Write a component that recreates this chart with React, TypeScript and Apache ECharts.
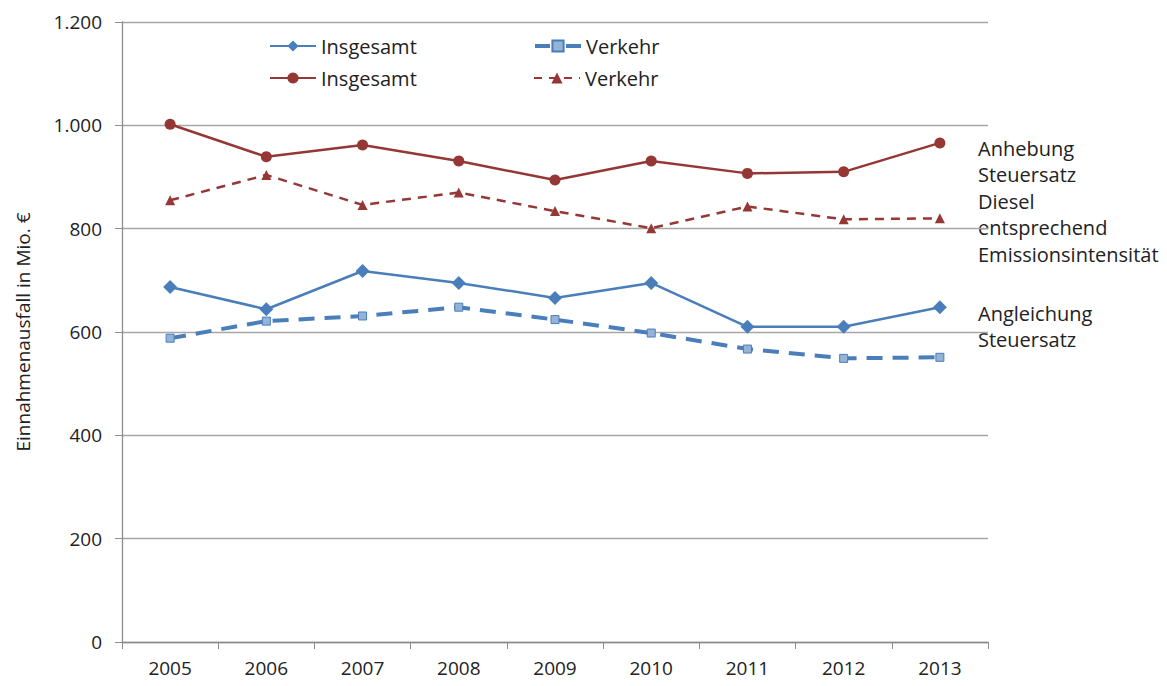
import React, { useEffect, useRef } from "react";
import * as echarts from "echarts";

const years = ["2005", "2006", "2007", "2008", "2009", "2010", "2011", "2012", "2013"];
const angleichungInsgesamt = [687, 644, 718, 695, 666, 695, 610, 610, 648];
const angleichungVerkehr = [588, 621, 631, 648, 624, 598, 567, 549, 551];
const anhebungInsgesamt = [1002, 939, 962, 931, 894, 931, 907, 910, 966];
const anhebungVerkehr = [855, 904, 846, 870, 834, 801, 843, 818, 820];
const yTicks = [0, 200, 400, 600, 800, 1000, 1200];

const BLUE = "#4A7EBB";
const LIGHTBLUE = "#95B3D7";
const RED = "#953735";
const FONT = "'Open Sans', 'DejaVu Sans', sans-serif";

const fmt = (v: number) => String(v).replace(/\B(?=(\d{3})+(?!\d))/g, ".");

export default function App() {
  const ref = useRef<HTMLDivElement>(null);
  useEffect(() => {
    const chart = echarts.init(ref.current!, null, { renderer: "svg" });
    const legendBase = {
      orient: "horizontal",
      itemWidth: 46,
      itemHeight: 14,
      itemGap: 4,
      selectedMode: false,
      textStyle: { fontFamily: FONT, fontSize: 20, color: "#222" },
      formatter: (n: string) => n.split(" ")[0],
    };
    chart.setOption({
      animation: false,
      grid: { left: 122, right: 179, top: 22, bottom: 44 },
      legend: [
        { ...legendBase, left: 264, top: 31, data: ["Insgesamt A"] },
        {
          ...legendBase,
          left: 528,
          top: 31,
          data: [{ name: "Verkehr A", lineStyle: { type: [15, 16], width: 4 } }],
        },
        { ...legendBase, left: 264, top: 63, data: ["Insgesamt B"] },
        {
          ...legendBase,
          left: 528,
          top: 63,
          data: [{ name: "Verkehr B", lineStyle: { type: [8, 7] } }],
        },
      ],
      xAxis: {
        type: "category",
        data: years,
        boundaryGap: true,
        axisLine: { lineStyle: { color: "#8c8c8c", width: 1.3 } },
        axisTick: { show: true, length: 7, lineStyle: { color: "#8c8c8c" } },
        axisLabel: { fontFamily: FONT, fontSize: 19, lineHeight: 20, color: "#222", margin: 16 },
      },
      yAxis: {
        type: "value",
        min: 0,
        max: 1200,
        interval: 200,
        name: "Einnahmenausfall in Mio. €",
        nameLocation: "middle",
        nameGap: 90,
        nameTextStyle: { fontFamily: FONT, fontSize: 19, color: "#222" },
        axisLine: { show: true, lineStyle: { color: "#8c8c8c", width: 1.3 } },
        axisTick: { show: true, length: 7, lineStyle: { color: "#8c8c8c" } },
        axisLabel: {
          fontFamily: FONT,
          fontSize: 19,
          color: "#222",
          margin: 20,
          formatter: (v: number) => (yTicks.includes(v) ? fmt(v) : ""),
        },
        splitLine: { lineStyle: { color: "#a6a6a6", width: 1.3 } },
      },
      graphic: [
        ...["Anhebung", "Steuersatz", "Diesel", "entsprechend", "Emissionsintensität"].map((t, i) => ({
          type: "text",
          left: 978,
          top: 138 + i * 26.5,
          style: { text: t, font: `20px ${FONT}`, fill: "#222" },
        })),
        ...["Angleichung", "Steuersatz"].map((t, i) => ({
          type: "text",
          left: 978,
          top: 303 + i * 26.5,
          style: { text: t, font: `20px ${FONT}`, fill: "#222" },
        })),
      ],
      series: [
        {
          name: "Insgesamt A",
          type: "line",
          data: angleichungInsgesamt,
          symbol: "diamond",
          symbolSize: 14,
          itemStyle: { color: BLUE },
          lineStyle: { color: BLUE, width: 2.5 },
        },
        {
          name: "Verkehr A",
          type: "line",
          data: angleichungVerkehr,
          symbol: "rect",
          symbolSize: 8,
          itemStyle: { color: LIGHTBLUE, borderColor: BLUE, borderWidth: 1 },
          lineStyle: { color: BLUE, width: 4, type: [16, 10] },
        },
        {
          name: "Insgesamt B",
          type: "line",
          data: anhebungInsgesamt,
          symbol: "circle",
          symbolSize: 11,
          itemStyle: { color: RED },
          lineStyle: { color: RED, width: 2.5 },
        },
        {
          name: "Verkehr B",
          type: "line",
          data: anhebungVerkehr,
          symbol: "triangle",
          symbolSize: 10,
          itemStyle: { color: RED },
          lineStyle: { color: RED, width: 2.5, type: [9, 7] },
        },
      ],
    });
    return () => chart.dispose();
  }, []);
  return <div ref={ref} style={{ width: 1167, height: 686, margin: -8 }} />;
}
